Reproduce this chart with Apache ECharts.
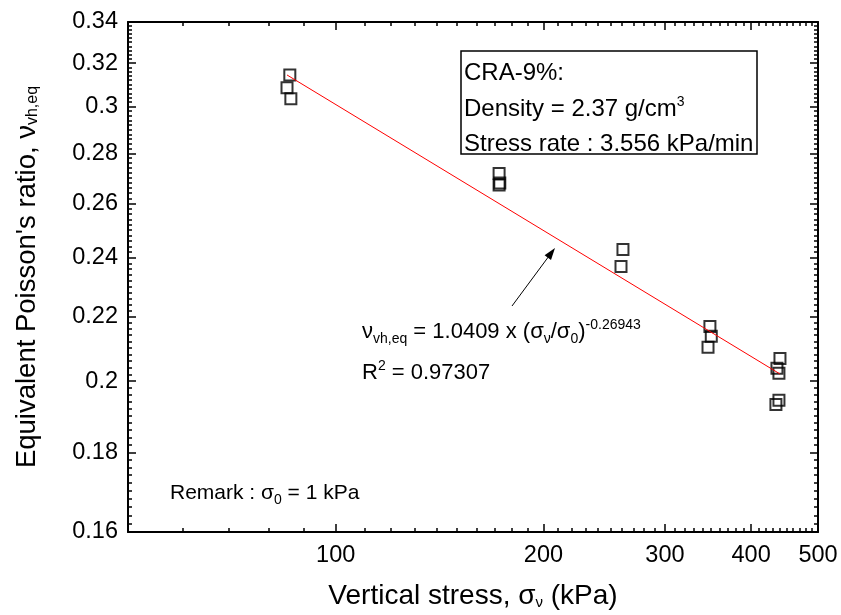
<!DOCTYPE html>
<html>
<head>
<meta charset="utf-8">
<script src="https://cdn.jsdelivr.net/npm/echarts@6/dist/echarts.min.js"></script>
<style>
  html, body { margin: 0; padding: 0; background: #fff; }
  #chart { width: 841px; height: 615px; }
</style>
</head>
<body>
<div id="chart"></div>
<script>
// measured points: vertical stress (kPa) and equivalent Poisson's ratio
const stress  = [85.8, 85.0, 86.1, 172.5, 172.5, 172.9, 260.8, 259.1, 348.6, 350.2, 346.4,
                 440.4, 436.0, 438.9, 438.9, 434.5];
const poisson = [0.3144, 0.3085, 0.3035, 0.2718, 0.2672, 0.2680, 0.2429, 0.2369,
                 0.2168, 0.2137, 0.2102, 0.2068, 0.2038, 0.2023, 0.1944, 0.1932];
// power-law fit line end points
const fitStress  = [85.0, 440.4];
const fitPoisson = [0.3144, 0.2021];
// tick labels
const xTicks = [100, 200, 300, 400, 500];
const yTicks = [0.16, 0.18, 0.2, 0.22, 0.24, 0.26, 0.28, 0.3, 0.32, 0.34];

const xMinor = [];
for (let v = 60; v < 500; v += 10) if (v % 100 !== 0) xMinor.push(v);
const yMinor = [];
for (let k = 81; k < 170; k++) if (k % 10 !== 0) yMinor.push(+(k * 0.002).toFixed(3));

const font = '"Liberation Sans", Arial, sans-serif';
const rich = {
  sub: { fontSize: 14, lineHeight: 8, verticalAlign: 'bottom', fontFamily: font },
  sup: { fontSize: 14, lineHeight: 8, verticalAlign: 'top', fontFamily: font }
};

const chart = echarts.init(document.getElementById('chart'));

function xAxis(pos, ticks, len, main) {
  return {
    type: 'log', logBase: 10, min: 50, max: 500, position: pos,
    axisLine: { show: main, onZero: false, lineStyle: { color: '#000', width: 2 } },
    axisTick: { show: true, inside: true, length: len, customValues: ticks,
      lineStyle: { color: '#000', width: 1.5 } },
    axisLabel: { show: main && pos === 'bottom', customValues: ticks, margin: 12,
      color: '#000', fontSize: 23.5, fontFamily: font },
    splitLine: { show: false },
    minorTick: { show: false }
  };
}
function yAxis(pos, ticks, len, main) {
  return {
    type: 'log', logBase: 10, min: 0.16, max: 0.34, position: pos,
    axisLine: { show: main, onZero: false, lineStyle: { color: '#000', width: 2 } },
    axisTick: { show: true, inside: true, length: len, customValues: ticks,
      lineStyle: { color: '#000', width: 1.5 } },
    axisLabel: { show: main && pos === 'left', customValues: ticks, margin: 10,
      color: '#000', fontSize: 23.5, fontFamily: font,
      formatter: v => String(+(+v).toFixed(2)) },
    splitLine: { show: false },
    minorTick: { show: false }
  };
}

const xAxes = [
  xAxis('bottom', xTicks, 8, true),
  xAxis('bottom', xMinor, 4, false),
  xAxis('top', xTicks, 8, true),
  xAxis('top', xMinor, 4, false)
];
xAxes[0].name = 'Vertical stress, σ{sub|ν} (kPa)';
xAxes[0].nameLocation = 'middle';
xAxes[0].nameGap = 50;
xAxes[0].nameTextStyle = { fontSize: 28, fontFamily: font, color: '#000', rich: {
  sub: { fontSize: 15, lineHeight: 8, verticalAlign: 'bottom', fontFamily: font } } };

const yAxes = [
  yAxis('left', yTicks, 8, true),
  yAxis('left', yMinor, 4, false),
  yAxis('right', yTicks, 8, true),
  yAxis('right', yMinor, 4, false)
];
yAxes[0].name = "Equivalent Poisson's ratio, ν{sub|vh,eq}";
yAxes[0].nameLocation = 'middle';
yAxes[0].nameRotate = 90;
yAxes[0].nameGap = 87;
yAxes[0].nameTextStyle = { fontSize: 27.5, fontFamily: font, color: '#000', rich: {
  sub: { fontSize: 16, lineHeight: 8, verticalAlign: 'bottom', fontFamily: font } } };

const option = {
  animation: false,
  backgroundColor: '#fff',
  grid: { left: 128, right: 23, top: 22, bottom: 82, containLabel: false },
  xAxis: xAxes,
  yAxis: yAxes,
  series: [
    {
      type: 'scatter',
      xAxisIndex: 0, yAxisIndex: 0,
      symbol: 'rect',
      symbolSize: 11,
      data: stress.map((s, i) => [s, poisson[i]]),
      itemStyle: { color: 'rgba(0,0,0,0)', borderColor: '#000', borderWidth: 2 }
    },
    {
      type: 'line',
      xAxisIndex: 0, yAxisIndex: 0,
      data: fitStress.map((s, i) => [s, fitPoisson[i]]),
      showSymbol: false,
      lineStyle: { color: '#ff0000', width: 1 },
      z: 3
    }
  ],
  graphic: [
    { type: 'rect', shape: { x: 461, y: 51, width: 296, height: 103 },
      style: { fill: 'none', stroke: '#000', lineWidth: 1.5 } },
    { type: 'text', x: 464, y: 59,
      style: { text: 'CRA-9%:', fontSize: 24, fontFamily: font, fill: '#000', lineHeight: 28 } },
    { type: 'text', x: 464, y: 95,
      style: { text: 'Density = 2.37 g/cm{sup|3}', fontSize: 24, fontFamily: font, fill: '#000',
        lineHeight: 28, rich: rich } },
    { type: 'text', x: 464, y: 130,
      style: { text: 'Stress rate : 3.556 kPa/min', fontSize: 24, fontFamily: font, fill: '#000',
        lineHeight: 28 } },
    { type: 'text', x: 362, y: 318,
      style: { text: 'ν{sub|vh,eq} = 1.0409 x (σ{sub|ν}/σ{sub|0}){sup|-0.26943}', fontSize: 22,
        fontFamily: font, fill: '#000', lineHeight: 28, rich: rich } },
    { type: 'text', x: 362, y: 359,
      style: { text: 'R{sup|2} = 0.97307', fontSize: 22, fontFamily: font, fill: '#000',
        lineHeight: 28, rich: rich } },
    { type: 'text', x: 170, y: 479,
      style: { text: 'Remark : σ{sub|0} = 1 kPa', fontSize: 21, fontFamily: font, fill: '#000',
        lineHeight: 28, rich: rich } },
    { type: 'line', shape: { x1: 512, y1: 306, x2: 549, y2: 256 },
      style: { stroke: '#000', lineWidth: 1 } },
    { type: 'polygon', shape: { points: [[555, 248], [551, 260], [544.6, 255.3]] },
      style: { fill: '#000' } }
  ]
};

chart.setOption(option);
</script>
</body>
</html>
